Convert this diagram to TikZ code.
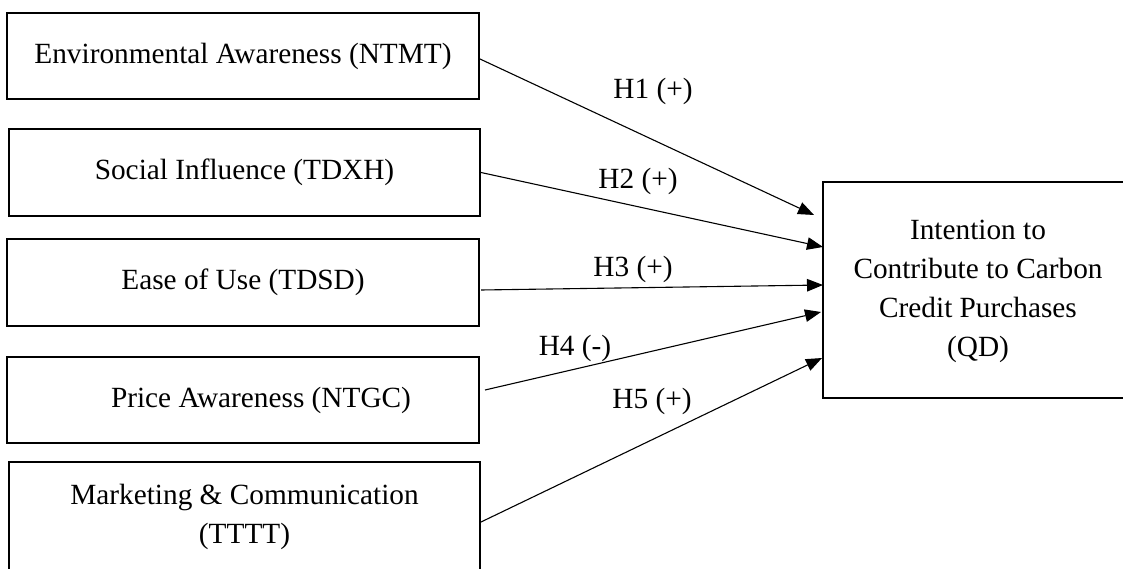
\documentclass[tikz,border=0pt]{standalone}
\usepackage{fontspec}
\setmainfont{Liberation Serif}
\usetikzlibrary{arrows.meta}
\begin{document}
\begin{tikzpicture}[x=1pt,y=-1pt,
  box/.style={draw,line width=2pt,inner sep=0pt,align=center,
    font=\fontsize{29.3}{39}\selectfont},
  lbl/.style={inner sep=0pt,font=\fontsize{29.3}{39}\selectfont},
  arr/.style={line width=1.1pt,-{Triangle[length=16pt,width=12.5pt]}}]
\useasboundingbox (0,0) rectangle (1123,569);
\node[box,minimum width=472pt,minimum height=86pt] (b1) at (243,56) {\raisebox{-2pt}{Environmental Awareness (NTMT)}};
\node[box,minimum width=471pt,minimum height=87pt] (b2) at (244.5,172.5) {\raisebox{-2pt}{Social Influence (TDXH)}};
\node[box,minimum width=472pt,minimum height=87pt] (b3) at (243,282.5) {\raisebox{-2pt}{Ease of Use (TDSD)}};
\node[box,minimum width=472pt,minimum height=86pt] (b4) at (243,400) {\hspace*{36pt}\raisebox{-2pt}{Price Awareness (NTGC)}};
\node[box,minimum width=471pt,minimum height=110pt] (b5) at (244.5,517) {Marketing \& Communication\\(TTTT)};
\node[box,minimum width=310pt,minimum height=216pt] (q) at (978,290) {\raisebox{-3pt}{\begin{tabular}{@{}c@{}}Intention to\\Contribute to Carbon\\Credit Purchases\\(QD)\end{tabular}}};
\coordinate (s3) at (481,290);
\coordinate (s4) at (485,390);
\coordinate (s5) at (481,522);
\coordinate (e1) at (814,215);
\coordinate (e2) at (823,247);
\coordinate (e3) at (823,285);
\coordinate (e4) at (821,312);
\coordinate (e5) at (822,358);
\draw[arr] (b1.east) ++(0,3) -- (e1);
\draw[arr] (b2.east) -- (e2);
\draw[arr] (s3) -- (e3);
\draw[arr] (s4) -- (e4);
\draw[arr] (s5) -- (e5);
\node[lbl] (l1) at (653,91) {H1 (+)};
\node[lbl] (l2) at (638,181) {H2 (+)};
\node[lbl] (l3) at (633,269) {H3 (+)};
\node[lbl] (l4) at (575,348) {H4 (-)};
\node[lbl] (l5) at (652,401) {H5 (+)};
\end{tikzpicture}
\end{document}
